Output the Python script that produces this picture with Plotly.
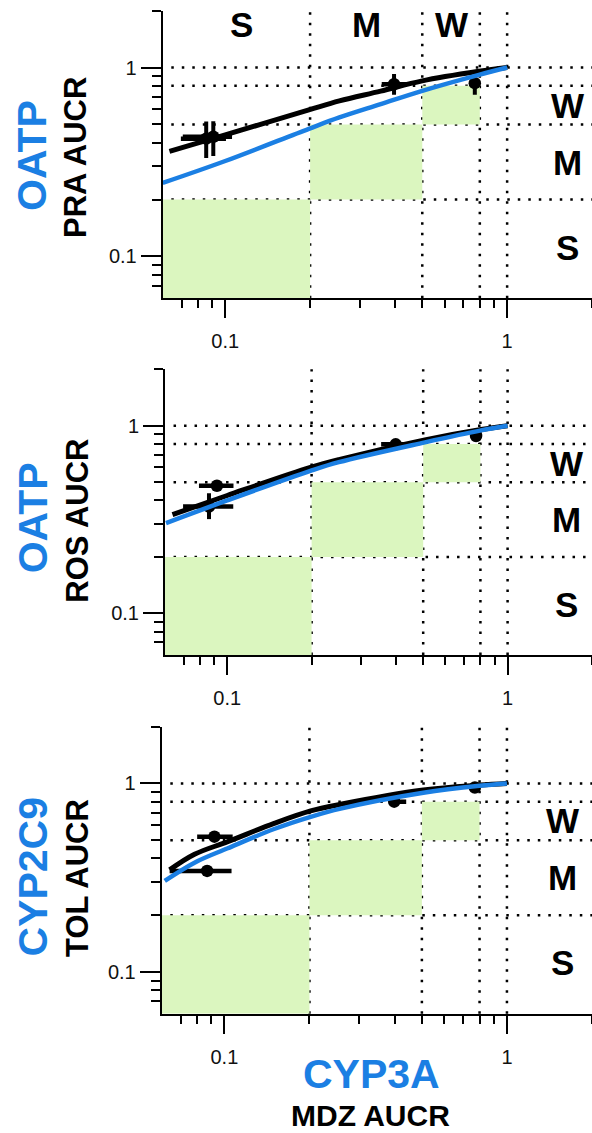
import math
import plotly.graph_objects as go

# ---------------- data ----------------
thresholds = [0.2, 0.5, 0.8, 1.0]
zone_labels = ["S", "M", "W"]

panel_inhibitor = ["OATP", "OATP", "CYP2C9"]
panel_victim = ["PRA AUCR", "ROS AUCR", "TOL AUCR"]
x_title_inhibitor = "CYP3A"
x_title_victim = "MDZ AUCR"

# panel 1 (PRA)
pra_black_x = [0.0634, 0.1, 0.198, 0.254, 0.356, 0.5, 0.794, 1.0]
pra_black_y = [0.36, 0.44, 0.597, 0.666, 0.75, 0.85, 0.955, 1.0]
pra_blue_x = [0.06, 0.1, 0.198, 0.254, 0.356, 0.5, 0.794, 1.0]
pra_blue_y = [0.245, 0.32, 0.474, 0.544, 0.64, 0.753, 0.915, 1.0]
pra_obs_x = [0.0856, 0.0907, 0.397, 0.768]
pra_obs_y = [0.42, 0.43, 0.817, 0.827]
pra_obs_xerr_plus = [0.015, 0.015, 0.044, 0.0]
pra_obs_xerr_minus = [0.016, 0.02, 0.038, 0.0]
pra_obs_yerr_plus = [0.098, 0.09, 0.106, 0.0]
pra_obs_yerr_minus = [0.088, 0.09, 0.10, 0.11]

# panel 2 (ROS)
ros_black_x = [0.0638, 0.1, 0.198, 0.25, 0.507, 0.804, 1.0]
ros_black_y = [0.336, 0.425, 0.6, 0.66, 0.84, 0.955, 1.0]
ros_blue_x = [0.0605, 0.1, 0.198, 0.25, 0.507, 0.804, 1.0]
ros_blue_y = [0.303, 0.40, 0.575, 0.64, 0.816, 0.945, 1.0]
ros_obs_x = [0.0919, 0.0861, 0.399, 0.772]
ros_obs_y = [0.479, 0.371, 0.796, 0.882]
ros_obs_xerr_plus = [0.0134, 0.019, 0.045, 0.02]
ros_obs_xerr_minus = [0.0126, 0.0165, 0.045, 0.02]
ros_obs_yerr_plus = [0.03, 0.066, 0.02, 0.03]
ros_obs_yerr_minus = [0.03, 0.053, 0.02, 0.03]

# panel 3 (TOL)
tol_black_x = [0.064, 0.0784, 0.1028, 0.15, 0.202, 0.258, 0.506, 0.8, 1.0]
tol_black_y = [0.348, 0.421, 0.491, 0.614, 0.715, 0.775, 0.922, 0.98, 1.0]
tol_blue_x = [0.0615, 0.0784, 0.1028, 0.15, 0.202, 0.258, 0.506, 0.8, 1.0]
tol_blue_y = [0.304, 0.38, 0.453, 0.573, 0.665, 0.735, 0.892, 0.972, 1.0]
tol_obs_x = [0.0922, 0.0869, 0.399, 0.77]
tol_obs_y = [0.522, 0.3435, 0.80, 0.952]
tol_obs_xerr_plus = [0.0148, 0.0191, 0.041, 0.0]
tol_obs_xerr_minus = [0.0121, 0.0229, 0.0, 0.0]
tol_obs_yerr_plus = [0.0, 0.0, 0.0, 0.01]
tol_obs_yerr_minus = [0.0, 0.0, 0.0, 0.01]

x_tick_vals = [0.1, 1]
x_tick_text = ["0.1", "1"]
x_minor_vals = [0.07, 0.08, 0.09, 0.2, 0.3, 0.4, 0.5, 0.6, 0.7, 0.8, 0.9, 2]
y_tick_vals = [0.1, 1]
y_tick_text = ["0.1", "1"]
y_minor_vals = [0.07, 0.08, 0.09, 0.2, 0.3, 0.4, 0.5, 0.6, 0.7, 0.8, 0.9, 2]

axis_min = 0.06
axis_max = 2.0

# ---------------- style ----------------
BLUE = "#1b7fe3"
GREEN = "#dbf6bf"
FONT = "Liberation Sans, Arial, sans-serif"
W, H = 592, 1133

panels = [
    dict(bx=pra_black_x, by=pra_black_y, ux=pra_blue_x, uy=pra_blue_y,
         ox=pra_obs_x, oy=pra_obs_y, xp=pra_obs_xerr_plus, xm=pra_obs_xerr_minus,
         yp=pra_obs_yerr_plus, ym=pra_obs_yerr_minus),
    dict(bx=ros_black_x, by=ros_black_y, ux=ros_blue_x, uy=ros_blue_y,
         ox=ros_obs_x, oy=ros_obs_y, xp=ros_obs_xerr_plus, xm=ros_obs_xerr_minus,
         yp=ros_obs_yerr_plus, ym=ros_obs_yerr_minus),
    dict(bx=tol_black_x, by=tol_black_y, ux=tol_blue_x, uy=tol_blue_y,
         ox=tol_obs_x, oy=tol_obs_y, xp=tol_obs_xerr_plus, xm=tol_obs_xerr_minus,
         yp=tol_obs_yerr_plus, ym=tol_obs_yerr_minus),
]

# pixel layout: (left px, right px, top px, bottom px)
boxes = [(162.7, 592, 10.7, 298.3), (165, 592, 369.3, 655), (161.7, 592, 726.7, 1013.7)]
right_label_x = [1.64, 1.62, 1.57]

fig = go.Figure()
shapes = []
annotations = []
layout = dict(width=W, height=H, margin=dict(l=0, r=0, t=0, b=0),
              paper_bgcolor="white", plot_bgcolor="white", showlegend=False)

for i, p in enumerate(panels):
    n = i + 1
    xa = "x" if n == 1 else f"x{n}"
    ya = "y" if n == 1 else f"y{n}"
    left, right, top, bottom = boxes[i]

    fig.add_trace(go.Scatter(
        x=p["ox"], y=p["oy"], mode="markers", xaxis=xa, yaxis=ya,
        marker=dict(color="black", size=12.5),
        error_x=dict(type="data", symmetric=False, array=p["xp"], arrayminus=p["xm"],
                     color="black", thickness=4.5, width=0),
        error_y=dict(type="data", symmetric=False, array=p["yp"], arrayminus=p["ym"],
                     color="black", thickness=4, width=0),
    ))
    fig.add_trace(go.Scatter(x=p["bx"], y=p["by"], mode="lines", xaxis=xa, yaxis=ya,
                             line=dict(color="black", width=5, shape="spline",
                                       smoothing=1.0)))
    fig.add_trace(go.Scatter(x=p["ux"], y=p["uy"], mode="lines", xaxis=xa, yaxis=ya,
                             line=dict(color=BLUE, width=4.5, shape="spline",
                                       smoothing=1.0)))

    axis_common = dict(
        type="log", showgrid=False, zeroline=False, showline=True,
        linecolor="black", linewidth=2, ticks="outside", tickwidth=2,
        tickcolor="black", tickfont=dict(family=FONT, size=20, color="#111"),
    )
    layout[f"xaxis{n if n > 1 else ''}"] = dict(
        axis_common, domain=[left / W, right / W],
        range=[math.log10(axis_min), math.log10(axis_max)],
        anchor=ya, tickvals=x_tick_vals, ticktext=x_tick_text, ticklen=18,
        ticklabelstandoff=6,
        minor=dict(tickvals=x_minor_vals, ticks="outside", ticklen=8,
                   tickwidth=2, tickcolor="black"),
    )
    layout[f"yaxis{n if n > 1 else ''}"] = dict(
        axis_common, domain=[1 - bottom / H, 1 - top / H],
        range=[math.log10(axis_min), math.log10(axis_max)],
        anchor=xa, tickvals=y_tick_vals, ticktext=y_tick_text, ticklen=20,
        minor=dict(tickvals=y_minor_vals, ticks="outside", ticklen=9,
                   tickwidth=2, tickcolor="black"),
    )

    # green zones
    lows = [axis_min] + thresholds[:2]
    highs = thresholds[:3]
    for lo, hi in zip(lows, highs):
        shapes.append(dict(type="rect", xref=xa, yref=ya, x0=lo, x1=hi, y0=lo, y1=hi,
                           fillcolor=GREEN, line=dict(width=0), layer="below"))
    # dotted threshold lines
    dot = dict(color="black", width=2.5, dash="2.5px,8px")
    for t in thresholds:
        shapes.append(dict(type="line", xref=xa, yref=f"{ya} domain", x0=t, x1=t,
                           y0=0, y1=1, line=dot, layer="below"))
        shapes.append(dict(type="line", xref=f"{xa} domain", yref=ya, x0=0.02, x1=1,
                           y0=t, y1=t, line=dot, layer="below"))

    # zone labels on the right
    for lab, yv in zip(zone_labels, [0.112, 0.316, 0.632]):
        annotations.append(dict(text=f"<b>{lab}</b>", xref=xa, yref=ya,
                                x=math.log10(right_label_x[i]), y=math.log10(yv),
                                showarrow=False,
                                font=dict(family=FONT, size=35, color="black"),
                                xanchor="center", yanchor="middle"))
    if n == 1:
        for lab, xv in zip(zone_labels, [0.114, 0.318, 0.635]):
            annotations.append(dict(text=f"<b>{lab}</b>", xref=xa, yref=ya,
                                    x=math.log10(xv), y=math.log10(1.68), showarrow=False,
                                    font=dict(family=FONT, size=35, color="black"),
                                    xanchor="center", yanchor="middle"))

# y titles
title_pos = [((32, 156), (75, 158)), ((33.3, 518), (76.7, 521)), ((32.5, 877), (77, 878))]
for i in range(3):
    (x1, y1), (x2, y2) = title_pos[i]
    annotations.append(dict(text=f"<b>{panel_inhibitor[i]}</b>", xref="paper", yref="paper",
                            x=x1 / W, y=1 - y1 / H, textangle=-90, showarrow=False,
                            font=dict(family=FONT, size=41, color=BLUE),
                            xanchor="center", yanchor="middle"))
    annotations.append(dict(text=f"<b>{panel_victim[i]}</b>", xref="paper", yref="paper",
                            x=x2 / W, y=1 - y2 / H, textangle=-90, showarrow=False,
                            font=dict(family=FONT, size=31, color="black"),
                            xanchor="center", yanchor="middle"))

annotations.append(dict(text=f"<b>{x_title_inhibitor}</b>", xref="paper", yref="paper",
                        x=371 / W, y=1 - 1074 / H, showarrow=False,
                        font=dict(family=FONT, size=41, color=BLUE),
                        xanchor="center", yanchor="middle", borderpad=0))
annotations.append(dict(text=f"<b>{x_title_victim}</b>", xref="paper", yref="paper",
                        x=370 / W, y=1 - 1115 / H, showarrow=False,
                        font=dict(family=FONT, size=30, color="black"),
                        xanchor="center", yanchor="middle", borderpad=0))

layout["shapes"] = shapes
layout["annotations"] = annotations
fig.update_layout(**layout)
fig.write_html("out.html")
